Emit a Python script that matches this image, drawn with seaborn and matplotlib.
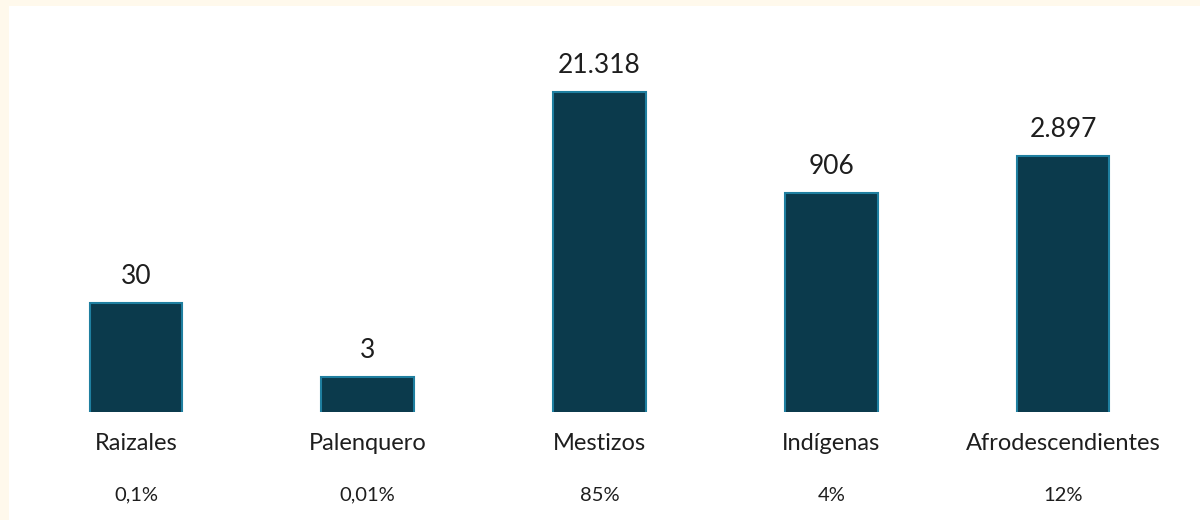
import numpy as np
import pandas as pd
import seaborn as sns
import matplotlib.pyplot as plt
from matplotlib.patches import Rectangle

# Datos
grupos = ["Raizales", "Palenquero", "Mestizos", "Indígenas", "Afrodescendientes"]
personas = [30, 3, 21318, 906, 2897]
porcentajes = ["0,1%", "0,01%", "85%", "4%", "12%"]

df = pd.DataFrame({"grupo": grupos, "personas": personas})

sns.set_theme(style="white")
plt.rcParams['font.family'] = ['Lato', 'DejaVu Sans']

fig = plt.figure(figsize=(12, 5.2), dpi=100)
fig.patch.set_facecolor("white")
# franjas crema arriba e izquierda
fig.patches.append(Rectangle((0, 1 - 6 / 520), 1, 6 / 520, transform=fig.transFigure,
                             facecolor="#FFF9EC", edgecolor="none", zorder=0))
fig.patches.append(Rectangle((0, 0), 9 / 1200, 1, transform=fig.transFigure,
                             facecolor="#FFF9EC", edgecolor="none", zorder=0))

ax = fig.add_axes([20 / 1200, 108 / 520, 1159 / 1200, 382 / 520])
ax.set_facecolor("none")

sns.barplot(data=df, x="grupo", y="personas", color="#0B3A4C", width=0.4,
            edgecolor="#1F7FA0", linewidth=1.5, saturation=1, ax=ax)
ax.set_yscale("log")
ax.set_ylim(1, 10 ** 5.16)
ax.set_xlim(-0.5, 4.5)

for i, v in enumerate(personas):
    ax.annotate(f"{v:,}".replace(",", "."), (i, v), xytext=(0, 10), textcoords="offset points",
                ha="center", va="bottom", fontsize=19, color="#1E1E1E")
    ax.annotate(porcentajes[i], (i, 1), xytext=(0, -60), textcoords="offset points",
                ha="center", va="center", fontsize=14.5, color="#1E1E1E",
                annotation_clip=False)

ax.set_xlabel("")
ax.set_ylabel("")
ax.set_yticks([])
ax.tick_params(axis="x", length=0, pad=15, labelsize=17, labelcolor="#1E1E1E")
for s in ax.spines.values():
    s.set_visible(False)

fig.savefig("out.png", dpi=100)
